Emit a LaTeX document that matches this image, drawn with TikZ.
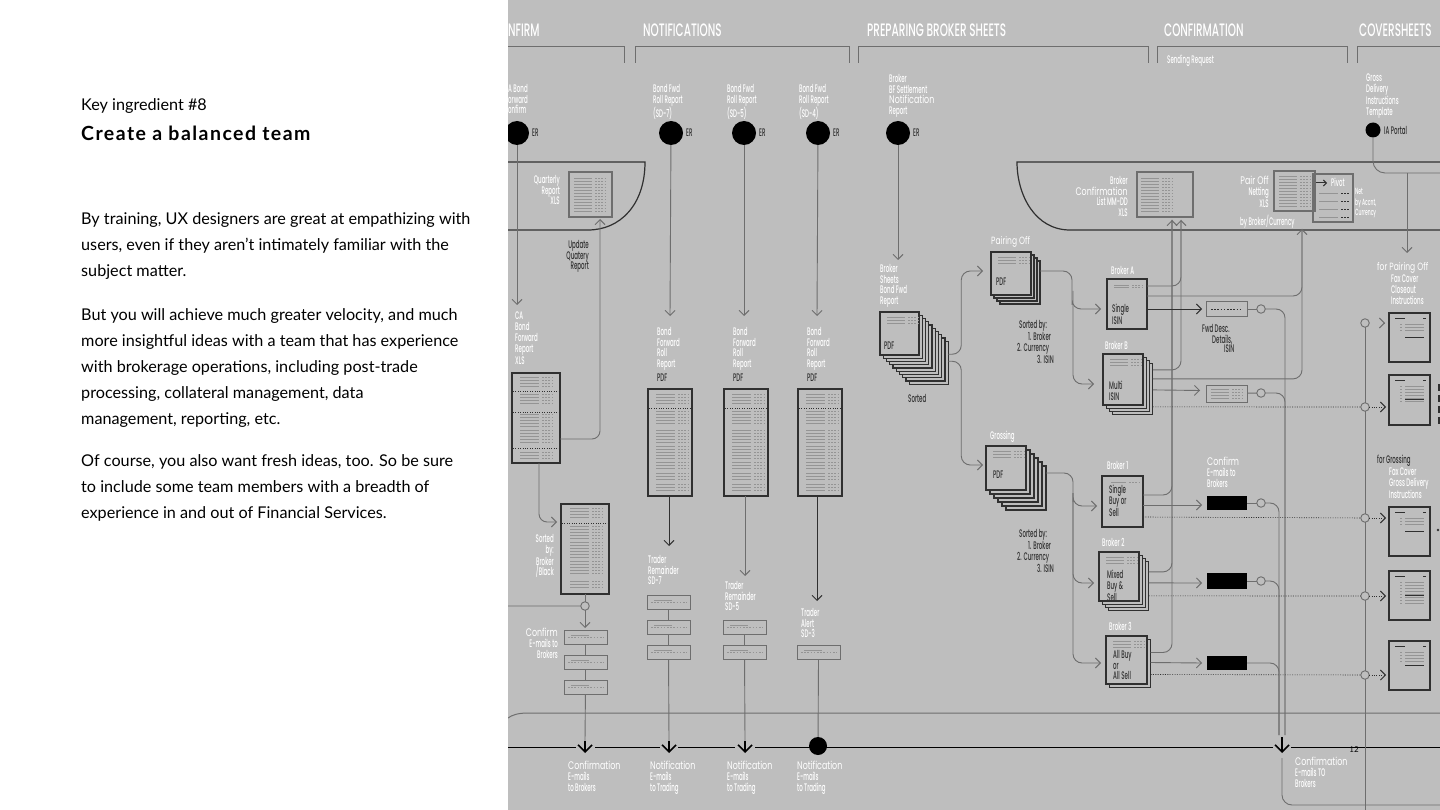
\documentclass[tikz,border=0pt]{standalone}
\usepackage{fontspec}
\setmainfont{Lato}
\newfontfamily\diagfont[FakeStretch=0.5]{Poppins Medium}
\newfontfamily\diagthin[FakeStretch=0.72]{Poppins}
\newfontfamily\headfont[FakeStretch=0.58]{Poppins Medium}
\usetikzlibrary{arrows.meta}

\definecolor{panelgrey}{HTML}{BEBEBE}
\definecolor{inkdark}{HTML}{303030}
\definecolor{flowgrey}{HTML}{6E6E6E}
\definecolor{rowgrey}{HTML}{949494}

\tikzset{
  >={Straight Barb[length=5pt,width=10pt,line width=0.9pt]},
  headlab/.style={white,inner sep=0,anchor=west,font=\headfont\fontsize{18}{18}\selectfont},
  lab/.style={white,inner sep=0,anchor=north west,align=left,font=\diagfont\fontsize{11}{10.7}\selectfont},
  labr/.style={lab,anchor=north east,align=right},
  thinlab/.style={lab,font=\diagthin\fontsize{10.5}{11}\selectfont},
  darklab/.style={lab,text=inkdark},
  darkr/.style={labr,text=inkdark},
  sheetbox/.style={draw=inkdark,line width=1.1pt,fill=panelgrey,inner sep=0,outer sep=0,anchor=north west},
  stripbox/.style={draw=flowgrey,line width=1pt,fill=panelgrey,inner sep=0,outer sep=0,anchor=north west,minimum width=43pt,minimum height=14pt},
  blackbox/.style={fill=black,inner sep=0,outer sep=0,anchor=north west,minimum width=40pt,minimum height=14pt},
  erdot/.style={circle,fill=black,inner sep=0,outer sep=0,minimum size=24pt},
  ringdot/.style={circle,draw=flowgrey,line width=0.9pt,fill=panelgrey,inner sep=0,outer sep=0,minimum size=8.5pt},
  flow/.style={draw=flowgrey,line width=0.9pt},
  flowdark/.style={draw=inkdark,line width=0.9pt},
  dotflow/.style={draw=inkdark,line width=0.6pt,dash pattern=on 1pt off 1.4pt},
  band/.style={draw=inkdark,line width=1pt},
  rowline/.style={draw=rowgrey,line width=0.9pt},
  rowdots/.style={draw=rowgrey,line width=0.9pt,dash pattern=on 1.6pt off 1.6pt},
  bracket/.style={draw=flowgrey,line width=1pt},
}

% rows of tiny figures: x, top, last index, width, pitch
\newcommand{\reportrows}[5]{%
  \foreach \k in {0,...,#3}{%
    \draw[rowline] (#1,#2+\k*#5) -- ++(#4,0);
    \draw[rowdots] (#1+#4+3,#2+\k*#5) -- ++(10,0);
  }}
% a sheet with further sheets behind: name, x, y, w, h, layers, offset
\newcommand{\sheetstack}[7]{%
  \foreach \k in {#6,...,1}{%
    \node[sheetbox,minimum width=#4pt,minimum height=#5pt] (#1\k) at (#2+\k*#7,#3+\k*#7) {};
  }
  \node[sheetbox,minimum width=#4pt,minimum height=#5pt] (#1) at (#2,#3) {};
  \reportrows{#2+7}{#3+5}{2}{18}{3}}
% one cover sheet: name, y, height, last index of its block
\newcommand{\coversheet}[4]{%
  \node[sheetbox,minimum width=41pt,minimum height=#3pt] (#1) at (1389,#2) {};
  \draw[draw=inkdark,line width=1pt] (1395,#2+5) -- ++(10,0);
  \draw[draw=inkdark,line width=1pt] (1423,#2+5) -- ++(3,0);
  \foreach \k in {0,...,#4}{%
    \draw[rowline] (1405,#2+11+\k*3) -- ++(19,0);
    \draw[rowline] (1400,#2+11+\k*3) -- ++(2,0);
  }
  \draw[draw=inkdark,line width=0.9pt] (1405,#2+24) -- ++(19,0);}

\begin{document}
\begin{tikzpicture}[x=1pt,y=-1pt]
\useasboundingbox (0,0) rectangle (1440,810);

% ---- text column ----
\fill[white] (0,0) rectangle (508,810);
\node[inner sep=0,anchor=west,text=black,font=\fontsize{16.2}{18}\selectfont] (kicker) at (81,106) {Key ingredient \#8};
\node[inner sep=0,anchor=west,text=black,font=\fontsize{19.5}{22}\selectfont\bfseries\addfontfeature{LetterSpace=7.5}] (title) at (81,133) {Create a balanced team};
\tikzset{para/.style={inner sep=0,anchor=north west,align=left,text=black,font=\fontsize{16.2}{26}\selectfont}}
\node[para] (parai) at (81,212) {By training, UX designers are great at empathizing with\\users, even if they aren’t intimately familiar with the\\subject matter.};
\node[para] (paraii) at (81,308) {But you will achieve much greater velocity, and much\\more insightful ideas with a team that has experience\\with brokerage operations, including post-trade\\processing, collateral management, data\\management, reporting, etc.};
\node[para] (paraiii) at (81,454) {Of course, you also want fresh ideas, too. So be sure\\to include some team members with a breadth of\\experience in and out of Financial Services.};

% ---- grey plate ----
\fill[panelgrey] (508,0) rectangle (1440,810);
\begin{scope}
\clip (508,0) rectangle (1440,810);

% ---- section heads ----
\node[headlab] (hconfirm) at (508,30) {NFIRM};
\node[headlab] (hnotify) at (643,30) {NOTIFICATIONS};
\node[headlab] (hsheets) at (867,30) {PREPARING BROKER SHEETS};
\node[headlab] (hconf) at (1164,30) {CONFIRMATION};
\node[headlab] (hcover) at (1359,30) {COVERSHEETS};
\draw[bracket] (500,47) -- (624,47) -- (624,63);
\draw[bracket] (635,63) -- (635,47) -- (849,47) -- (849,63);
\draw[bracket] (858,63) -- (858,47) -- (1148,47) -- (1148,63);
\draw[bracket] (1157,63) -- (1157,47) -- (1347,47) -- (1347,63);
\draw[bracket] (1357,63) -- (1357,47) -- (1445,47);
\node[lab] (hsend) at (1167,55) {Sending Request};

% ---- bands ----
\draw[band,line width=1.2pt] (500,162) -- (645,162) .. controls (645,205) and (620,230) .. (588,230) -- (500,230);
\draw[band,line width=1.2pt] (1445,162) -- (1017,162) .. controls (1017,195) and (1035,230) .. (1070,230) -- (1445,230);
\draw[band,draw=flowgrey] (508,718) .. controls (512,715) and (518,713) .. (528,713) -- (1445,713);

% ---- source dots ----
\foreach \nm/\cx in {a/517,b/671,c/744,d/818,e/898}{
  \node[erdot] (er\nm) at (\cx,133) {};
  \node[darklab,anchor=west] (ert\nm) at (\cx+15,133) {ER};
}
\node[erdot,minimum size=15pt] (erf) at (1373,130) {};
\node[darklab,anchor=west] (ertf) at (1384,130) {IA Portal};
\node[lab] (srca) at (508,84) {A Bond\\orward\\onfirm};
\node[lab] (srcb) at (653,84) {Bond Fwd\\Roll Report\\(SD-7)};
\node[lab] (srcc) at (727,84) {Bond Fwd\\Roll Report\\(SD-5)};
\node[lab] (srcd) at (799,84) {Bond Fwd\\Roll Report\\(SD-4)};
\node[lab] (srce) at (889,74) {Broker\\BF Settlement\\{\diagthin Notification}\\Report};
\node[lab] (srcf) at (1366,74) {Gross\\Delivery\\Instructions\\Template};

% ---- tables in the upper band ----
\node[sheetbox,draw=flowgrey,minimum width=43pt,minimum height=45pt] (tabq) at (569,172) {};
\reportrows{574}{178}{11}{18}{3}
\node[labr] (tabqt) at (560,175) {Quarterly\\Report\\XLS};
\node[sheetbox,draw=flowgrey,minimum width=56pt,minimum height=45pt] (tabc) at (1137,172) {};
\reportrows{1141}{178}{11}{18}{3}
\node[labr] (tabct) at (1128,176) {Broker\\{\diagthin Confirmation}\\List MM-DD\\XLS};
\node[sheetbox,draw=flowgrey,minimum width=41pt,minimum height=40pt,fill=none] (tabp) at (1274,171) {};
\reportrows{1279}{176}{10}{18}{3}
\node[labr] (tabpt) at (1269,176) {{\diagthin Pair Off}\\Netting\\XLS};
\node[lab] (tabpb) at (1240,215) {by Broker/Currency};
\node[sheetbox,draw=flowgrey,minimum width=40pt,minimum height=48pt,fill=none] (tabn) at (1313,174) {};
\coordinate (pivota) at (1316,183);
\coordinate (pivotb) at (1327,183);
\draw[flowdark,line width=1pt,-{Straight Barb[length=3pt,width=6pt]}] (pivota) -- (pivotb);
\node[lab] (tabnp) at (1331,178) {Pivot};
\foreach \k in {0,1,2,3}{
  \draw[rowline] (1319,193+\k*8) -- ++(19,0);
  \draw[rowdots,draw=inkdark] (1341,193+\k*8) -- ++(8,0);
}
\node[lab,font=\diagfont\fontsize{9}{10.7}\selectfont] (tabnt) at (1355,188) {Net\\by Accnt,\\Currency};

% ---- bond forward reports ----
\node[sheetbox,minimum width=48pt,minimum height=90pt] (repca) at (512,373) {};
\foreach \y/\n in {377/3,394/3,414/9,452/2}{\reportrows{520}{\y}{\n}{19}{3.2}}
\draw[dotflow] (513,391) -- (559,391) (513,412) -- (559,412) (513,448) -- (559,448);
\node[lab] (repcat) at (515,312) {CA\\Bond\\Forward\\Report\\[2pt]XLS};
\foreach \nm/\lx in {b/648,c/724,d/798}{
  \node[sheetbox,minimum width=44pt,minimum height=107pt] (rep\nm) at (\lx,389) {};
  \foreach \y/\n in {394/3,411/4,430/12,473/2,484/2}{\reportrows{\lx+8}{\y}{\n}{19}{3.2}}
  \draw[dotflow] (\lx+1,408) -- (\lx+43,408);
  \node[lab] (rept\nm) at (\lx+9,327) {Bond\\Forward\\Roll\\Report};
  \node[darklab] (repf\nm) at (\lx+9,374) {PDF};
}
\node[sheetbox,minimum width=48pt,minimum height=90pt] (repsort) at (561,504) {};
\foreach \y/\n in {508/3,526/5,545/9,581/2}{\reportrows{570}{\y}{\n}{19}{3.2}}
\draw[dotflow] (562,523) -- (608,523);
\node[labr] (repsortt) at (554,534) {Sorted\\by:\\Broker\\/Black};
\node[darkr] (updt) at (589,240) {Update\\Quatery\\Report};

% ---- e-mail strips ----
\foreach \nm/\sx/\sy in {a/564/630,b/564/655,c/564/680,d/647/595,e/647/620,f/647/645,g/723/620,h/723/645,i/797/645}{
  \node[stripbox] (mail\nm) at (\sx,\sy) {};
  \draw[rowline] (\sx+7,\sy+5) -- ++(18,0);
  \draw[rowdots] (\sx+4,\sy+7) -- ++(36,0);
}
\node[ringdot] (ringsort) at (585,606) {};
\coordinate (tipsort) at (585,628);
\coordinate (leftsort) at (500,625);
\node[labr] (mailat) at (558,628) {{\diagthin Confirm}\\E-mails to\\Brokers};
\node[lab] (maildt) at (648,555) {Trader\\Remainder\\SD-7};
\node[lab] (mailgt) at (725,581) {Trader\\Remainder\\SD-5};
\node[lab] (mailit) at (801,608) {Trader\\Alert\\SD-3};

% ---- connectors, left part ----
\coordinate (tipa) at (517,305);
\coordinate (tipb) at (670,316);
\coordinate (tipc) at (744,316);
\coordinate (tipd) at (817,316);
\coordinate (tipq) at (600,219);
\coordinate (tips) at (557,522);
\draw[flow,->] (era) -- (tipa);
\draw[flow,->] (erb) -- (tipb);
\draw[flow,->] (erc) -- (tipc);
\draw[flow,->] (erd) -- (tipd);
\draw[flow,->,rounded corners=8] ([yshift=-66pt]repca.north east) -| (tipq);
\draw[flow,->,rounded corners=8] ([xshift=3pt]repca.south) |- (tips);
\draw[flow] (repsort.south) -- (ringsort);
\draw[flow,->] (ringsort) -- (tipsort);
\draw[flow,rounded corners=8] (ringsort) -| (leftsort);
\coordinate (tipm) at (669,546);
\coordinate (tipn) at (745,576);
\coordinate (tipo) at (817,601);
\coordinate (baseb) at (669,496);
\coordinate (basec) at (745,496);
\coordinate (based) at (817,496);
\draw[flowdark,->] (baseb) -- (tipm);
\draw[flow,->] (basec) -- (tipn);
\draw[flowdark,->] (based) -- (tipo);
\foreach \p/\q in {maila/mailb,mailb/mailc,maild/maile,maile/mailf,mailg/mailh}{\draw[flow] (\p) -- (\q);}
\coordinate (jna) at (585,741);
\coordinate (jnb) at (669,741);
\coordinate (jnc) at (745,741);
\node[circle,fill=black,inner sep=0,minimum size=18pt] (jnd) at (818,746) {};
\draw[flow] (mailc) -- (jna);
\draw[flow] (mailf) -- (jnb);
\draw[flow] (mailh) -- (jnc);
\draw[flow] (maili.south) -- (jnd);

% ---- time line ----
\foreach \u/\v in {500/576,595/660,678/735,755/1273,1291/1445}{\draw[black,line width=1pt] (\u,747) -- (\v,747);}
\tikzset{bigtip/.style={black,line width=1.6pt,-{Straight Barb[length=7pt,width=14pt,line width=1.6pt]}}}
\coordinate (jne) at (1282,737);
\foreach \nm/\cx in {a/585,b/669,c/745,e/1282}{
  \coordinate (end\nm) at (\cx,753);
  \draw[bigtip] (jn\nm) -- (end\nm);
}
\node[lab] (ena) at (568,761) {{\diagthin Confirmation}\\E-mails\\to Brokers};
\node[lab] (enb) at (650,761) {{\diagthin Notification}\\E-mails\\to Trading};
\node[lab] (enc) at (727,761) {{\diagthin Notification}\\E-mails\\to Trading};
\node[lab] (end) at (797,761) {{\diagthin Notification}\\E-mails\\to Trading};
\node[lab] (enf) at (1295,757) {{\diagthin Confirmation}\\E-mails TO\\Brokers};
\coordinate (enda) at (1282,758);
\coordinate (endb) at (1445,805);
\draw[flow,rounded corners=10] (enda) |- (endb);
\node[inner sep=0,text=black,font=\fontsize{8}{8}\selectfont] (pageno) at (1354,750) {12};

% ---- broker sheets ----
\coordinate (tipe) at (898,260);
\draw[flow,->] (ere) -- (tipe);
\node[lab] (stackat) at (880,264) {Broker\\Sheets\\Bond Fwd\\Report};
\sheetstack{stacka}{880}{312}{39}{43}{9}{3.25}
\node[darklab] (stackap) at (884,342) {PDF};
\node[darklab] (stackas) at (908,394) {Sorted};
\sheetstack{stackb}{991}{252}{40}{43}{3}{3}
\node[darklab] (stackbp) at (996,278) {PDF};
\node[thinlab] (stackbt) at (991,236) {Pairing Off};
\sheetstack{stackc}{986}{446}{40}{44}{5}{4}
\node[darklab] (stackcp) at (993,471) {PDF};
\node[lab] (stackct) at (990,431) {Grossing};
\node[darklab] (sorta) at (1017,320) {\hspace*{2pt}Sorted by:\\\hspace*{11pt}1. Broker\\2. Currency\\\hspace*{20pt}3. ISIN};
\node[darklab] (sortb) at (1017,529) {\hspace*{2pt}Sorted by:\\\hspace*{11pt}1. Broker\\2. Currency\\\hspace*{20pt}3. ISIN};

% ---- broker boxes ----
\node[sheetbox,minimum width=40pt,minimum height=50pt] (bra) at (1107,279) {};
\reportrows{1114}{285}{1}{15}{2.5}
\node[lab] (brat) at (1111,266) {Broker A};
\node[darklab] (brap) at (1112,304) {Single\\ISIN};
\sheetstack{brb}{1103}{354}{40}{51}{3}{3.3}
\node[lab] (brbt) at (1105,341) {Broker B};
\node[darklab] (brbp) at (1109,381) {Multi\\ISIN};
\node[sheetbox,minimum width=41pt,minimum height=51pt] (brc) at (1102,476) {};
\reportrows{1111}{482}{0}{15}{2.5}
\node[lab] (brct) at (1107,461) {Broker 1};
\node[darklab] (brcp) at (1109,485) {Single\\Buy or\\Sell};
\sheetstack{brd}{1099}{552}{40}{49}{3}{3.3}
\node[lab] (brdt) at (1102,538) {Broker 2};
\node[darklab] (brdp) at (1107,570) {Mixed\\Buy \&\\Sell};
\sheetstack{bre}{1106}{636}{41}{48}{1}{3.5}
\node[lab] (bret) at (1109,622) {Broker 3};
\node[darklab] (brep) at (1113,650) {All Buy\\or\\All Sell};

% ---- connectors into the broker boxes ----
\coordinate (tipf) at (983,271);
\coordinate (tipg) at (983,465);
\coordinate (tiph) at (1101,309);
\coordinate (tipi) at (1094,384);
\coordinate (tipj) at (1097,506);
\coordinate (tipk) at (1094,583);
\coordinate (tipl) at (1101,663);
\coordinate (forka) at (1073,271);
\coordinate (forkb) at (1073,473);
\draw[flow,->,rounded corners=9] ([yshift=-13pt]stacka9.north east) -- ++(13,0) |- (tipf);
\draw[flow,->,rounded corners=9] ([yshift=-20pt]stacka9.north east) -- ++(13,0) |- (tipg);
\draw[flow,->,rounded corners=9] ([yshift=-10pt]stackb3.north east) -| ++(32,25) |- (tiph);
\draw[flow,->,rounded corners=9] (forka) ++(0,20) |- (tipi);
\draw[flow,->,rounded corners=9] ([yshift=-7pt]stackc5.north east) -| ++(27,20) |- (tipj);
\draw[flow,->,rounded corners=9] (forkb) ++(0,20) |- (tipk);
\draw[flow,->,rounded corners=9] (forkb) ++(0,20) |- (tipl);

% ---- risers to the upper band ----
\coordinate (busa) at (1172,220);
\coordinate (busb) at (1181,220);
\coordinate (busc) at (1302,229);
\coordinate (busd) at (1285,735);
\coordinate (buse) at (1279,735);
\draw[flow,->,rounded corners=9] ([yshift=-7pt]bra.north east) -| (busb);
\draw[flow,rounded corners=9] ([yshift=-6pt]brb3.north east) -| (busb);
\draw[flow,->,rounded corners=9] ([yshift=-17pt]bra.north east) -| (busc);
\draw[flow,rounded corners=9] ([yshift=-15pt]brb3.north east) -| (busc);
\draw[flow,->,rounded corners=9] ([yshift=-19pt]brc.north east) -| (busa);
\draw[flow,rounded corners=9] ([yshift=-10pt]brd3.north east) -| (busa);
\draw[flow,rounded corners=9] ([yshift=-13pt]bre1.north east) -| (busa);

% ---- strips and black boxes on the right ----
\node[stripbox,minimum width=41pt] (outa) at (1206,302) {};
\draw[rowdots,draw=inkdark] (1211,309) -- ++(31,0);
\node[stripbox,minimum width=41pt,minimum height=17pt] (outb) at (1206,385) {};
\reportrows{1211}{389}{3}{18}{3}
\node[blackbox] (outc) at (1207,496) {};
\node[blackbox,minimum height=16pt] (outd) at (1207,573) {};
\node[blackbox] (oute) at (1207,656) {};
\foreach \nm/\cy in {a/309,b/393,c/503,d/581}{\node[ringdot] (ring\nm) at (1261,\cy) {};}
\node[darklab] (outat) at (1202,324) {Fwd Desc.};
\node[darklab] (outad) at (1212,335) {Details,};
\node[darklab] (outau) at (1224,345) {ISIN};
\node[lab] (outct) at (1207,457) {{\diagthin Confirm}\\E-mails to\\Brokers};

\draw[flowdark,->] ([yshift=-30pt]bra.north east) -- ([xshift=-4pt]outa.west);
\draw[flow,->] ([yshift=-26pt]brb3.north east) -- ([xshift=-6pt,yshift=3pt]outb.west);
\draw[flow,->] ([yshift=-29pt]brc.north east) -- ([xshift=-5pt,yshift=-2pt]outc.west);
\draw[flow,->] ([yshift=-21pt]brd3.north east) -- ([xshift=-5pt,yshift=-2pt]outd.west);
\draw[flow,->] ([yshift=-23pt]bre1.north east) -- ([xshift=-5pt]oute.west);
\foreach \nm in {a,b,c,d}{\draw[flow] (out\nm) -- (ring\nm);}
\draw[flow,rounded corners=9] (ringa) -| (busd);
\draw[flow,rounded corners=9] (ringb) -| (busd);
\draw[flow,rounded corners=9] (ringc) -| (buse);
\draw[flow,rounded corners=9] (ringd) -| (buse);
\draw[flow,rounded corners=9] (oute) -| (buse);

% ---- cover sheets ----
\coordinate (busf) at (1365,815);
\foreach \nm/\cy in {a/323,b/407,c/518,d/596,e/675}{\node[ringdot] (post\nm) at (1365,\cy) {};}
\draw[flow] (posta) -- (postb) -- (postc) -- (postd) -- (poste) -- (busf);
\coordinate (cuea) at (1384,323);
\coordinate (cueb) at (1385,323);
\coordinate (covib) at (1386,407);
\coordinate (covic) at (1386,518);
\coordinate (covid) at (1386,596);
\coordinate (covie) at (1386,675);
\draw[flow,->] (cuea) -- (cueb);
\foreach \nm in {b,c,d,e}{\draw[dotflow,->] (post\nm) -- (covi\nm);}
\draw[dotflow] ([yshift=-43pt]brb3.north east) -- (postb);
\draw[dotflow] ([yshift=-41pt]brc.north east) -- (postc);
\draw[dotflow] ([yshift=-34pt]brd3.north east) -- (postd);
\draw[dotflow] ([yshift=-35pt]bre1.north east) -- (poste);
\coversheet{cova}{313}{49}{2}
\coversheet{covb}{375}{50}{5}
\coversheet{covc}{507}{49}{2}
\coversheet{covd}{571}{49}{7}
\coversheet{cove}{641}{49}{3}
\node[thinlab] (cova0) at (1377,262) {for Pairing Off};
\node[lab] (covat) at (1391,275) {Fax Cover\\Closeout\\Instructions};
\node[darklab] (covc0) at (1377,455) {for Grossing};
\node[lab] (covct) at (1389,468) {Fax Cover\\Gross Delivery\\Instructions};
% cut glyphs on the plate edge
\foreach \y in {384,395,406,417}{\fill[inkdark] (1438,\y) rectangle (1440,\y+7);}
\fill[inkdark] (1438,530) circle (1.4);
\coordinate (tipu) at (1407,253);
\coordinate (ialeft) at (1445,173);
\draw[flow,rounded corners=12] (erf) |- (ialeft);
\coordinate (iadrop) at (1407,173);
\draw[flow,->] (iadrop) -- (tipu);
\end{scope}
\end{tikzpicture}
\end{document}
